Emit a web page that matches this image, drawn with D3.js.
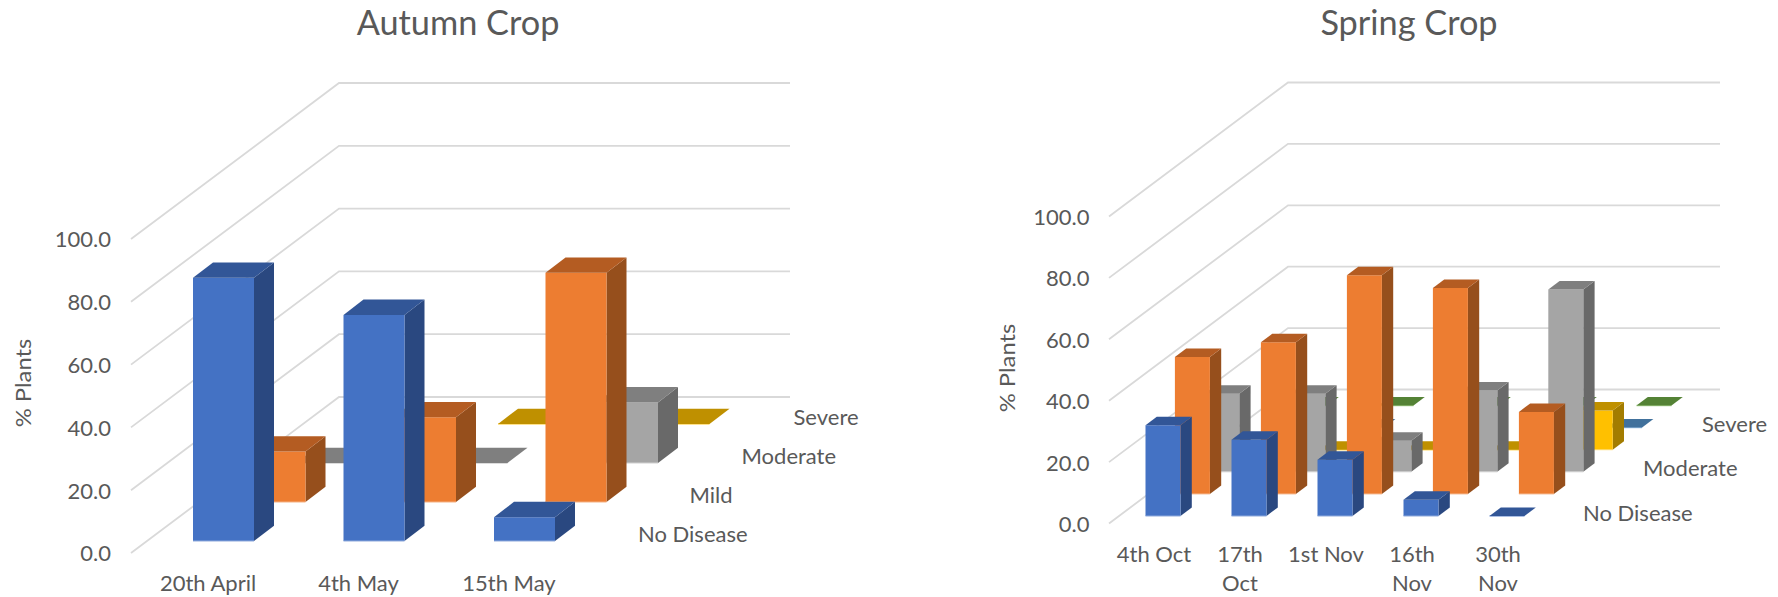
<!DOCTYPE html>
<html><head><meta charset="utf-8">
<script src="https://cdn.jsdelivr.net/npm/d3@7"></script>
<style>html,body{margin:0;background:#fff}svg{display:block}text{font-family:Lato,sans-serif;fill:#595959}</style>
</head><body><svg id="c" width="1778" height="597"></svg>
<script>
const tickValues = [0,20,40,60,80,100];
const autumnCats = ["20th April","4th May","15th May"];
const autumnSeries = ["No Disease","Mild","Moderate","Severe"];
const autumnNoDisease = [83.8,72,7.6];
const autumnMild = [16.1,27,73];
const autumnModerate = [0,0,19.3];
const autumnSevere = [0,0,0];
const springCats = [["4th Oct"],["17th","Oct"],["1st Nov"],["16th","Nov"],["30th","Nov"]];
const springSeries = ["No Disease","Mild","Moderate","Moderately Severe","Severe","Very Severe"];
const springNoDisease = [29.6,24.8,18.3,5.3,0];
const springMild = [44.6,49.4,71.2,67.1,26.7];
const springModerate = [25.4,25.4,10.1,26.5,59.4];
const springModSevere = [0,0,0,0,12.8];
const springSevere = [0,0,0,0,0];
const springVerySevere = [0,0,0,0,0];
const palette = [
 {f:"#4472C4",t:"#325697",s:"#2A4880",e:"#8FAADC"},
 {f:"#ED7D31",t:"#B45C22",s:"#964F1C",e:"#F4B183"},
 {f:"#A5A5A5",t:"#7F7F7F",s:"#696969",e:"#D0D0D0"},
 {f:"#FFC000",t:"#BF9000",s:"#A37C00",e:"#FFD966"},
 {f:"#5B9BD5",t:"#41719C",s:"#335F88",e:"#9DC3E6"},
 {f:"#70AD47",t:"#548235",s:"#456C2B",e:"#A9D18E"}];
const svg = d3.select("#c");

function label(g,x,y,str,size,kx,anchor){
  const t=g.append("text").attr("x",x).attr("y",y).attr("font-size",size).attr("text-anchor",anchor||"start").text(str);
  const w=t.node().getComputedTextLength();
  t.attr("textLength",w*kx).attr("lengthAdjust","spacingAndGlyphs");
  return t;
}
function chart(o){
  const g=svg.append("g");
  const y=d3.scaleLinear().domain([0,100]).range([o.y0,o.y0-o.h]);
  const depth=d3.scalePoint().domain(o.series).range([0,o.rowDx*(o.series.length-1)]);
  const x=d3.scaleBand().domain(o.cats.map(String)).range([o.barX,o.barX+o.colStep*(o.cats.length-1)+o.barW])
     .paddingInner(1-o.barW/o.colStep).paddingOuter(0);
  const dyOf=d=>d*o.rowDy/o.rowDx;
  // gridlines
  g.append("g").selectAll("path").data(tickValues).join("path")
    .attr("fill","none").attr("stroke","#D9D9D9").attr("stroke-width",1.8)
    .attr("d",v=>{const p=d3.path();const yy=y(v);p.moveTo(o.fx,yy);p.lineTo(o.fx+o.wallDx,yy-o.wallDy);p.lineTo(o.rx,yy-o.wallDy);return p.toString();});
  // value axis
  const ax=g.append("g").attr("transform",`translate(${o.tickX},0)`)
    .call(d3.axisLeft(y).tickValues(tickValues).tickFormat(d3.format(".1f")).tickSize(0).tickPadding(0));
  ax.select(".domain").remove();
  ax.selectAll("text").attr("font-size",22).style("font-family","Lato,sans-serif").attr("fill","#595959").attr("dy","0.36em");
  // bars, back row first
  const rows=o.series.map((s,i)=>({s,i,vals:o.values[i]})).reverse();
  rows.forEach(r=>{
    const c=palette[r.i];
    const rowG=g.append("g");
    r.vals.forEach((v,j)=>{
      const xl=x(String(o.cats[j]))+depth(r.s), w=x.bandwidth();
      const yb=o.barY-dyOf(depth(r.s));
      const H=y(0)-y(v);
      const yt=yb-H, dx=o.sideDx, dy=o.sideDy;
      const poly=(pts,f)=>rowG.append("path").attr("d",d3.line()(pts)+"Z").attr("fill",f);
      if(H>0){
        poly([[xl+w,yb],[xl+w+dx,yb-dy],[xl+w+dx,yt-dy],[xl+w,yt]],c.s);
        poly([[xl,yb],[xl+w,yb],[xl+w,yt],[xl,yt]],c.f);
        rowG.append("path").attr("d",d3.line()([[xl,yb],[xl+w,yb]])).attr("stroke",c.e).attr("stroke-width",1).attr("fill","none");
      } else {
        rowG.append("path").attr("d",d3.line()([[xl,yb],[xl+w,yb]])).attr("stroke",c.e).attr("stroke-width",1.5).attr("fill","none");
      }
      poly([[xl,yt],[xl+w,yt],[xl+w+dx,yt-dy],[xl+dx,yt-dy]],c.t);
    });
  });
  // text
  label(g,o.titleX,35,o.title,35,0.98,"middle");
  label(g,0,0,"% Plants",22,1.08,"middle").attr("transform",`translate(${o.plantsX},${o.plantsY}) rotate(-90)`);
  o.cats.forEach((c,i)=>{
    [].concat(c).forEach((ln,k)=>label(g,o.catX+o.colStep*i,o.catY+k*29,ln,22,1,"middle"));
  });
  o.depthLabels.forEach(d=>label(g,d[1],d[2],d[0],22,1));
}
chart({title:"Autumn Crop",titleX:458,cats:autumnCats,series:autumnSeries,
  values:[autumnNoDisease,autumnMild,autumnModerate,autumnSevere],
  y0:553,h:314,fx:131,wallDx:208,wallDy:156,rx:790,barX:193,barY:541,colStep:150.5,barW:61,rowDx:51.5,rowDy:39,sideDx:20,sideDy:15.3,
  tickX:111,plantsX:31,plantsY:383,catX:208,catY:591,
  depthLabels:[["No Disease",638,541.7],["Mild",689.5,503],["Moderate",741.5,464],["Severe",793.5,425]]});
chart({title:"Spring Crop",titleX:1409,cats:springCats,series:springSeries,
  values:[springNoDisease,springMild,springModerate,springModSevere,springSevere,springVerySevere],
  y0:523.5,h:307,fx:1109,wallDx:179,wallDy:134,rx:1720,barX:1145.5,barY:516,colStep:86,barW:35,rowDx:29.4,rowDy:22.1,sideDx:11.3,sideDy:8.5,
  tickX:1089.5,plantsX:1015,plantsY:368,catX:1154,catY:562,
  depthLabels:[["No Disease",1583,520.7],["Moderate",1643,475.7],["Severe",1702,431.7]]});
</script></body></html>
